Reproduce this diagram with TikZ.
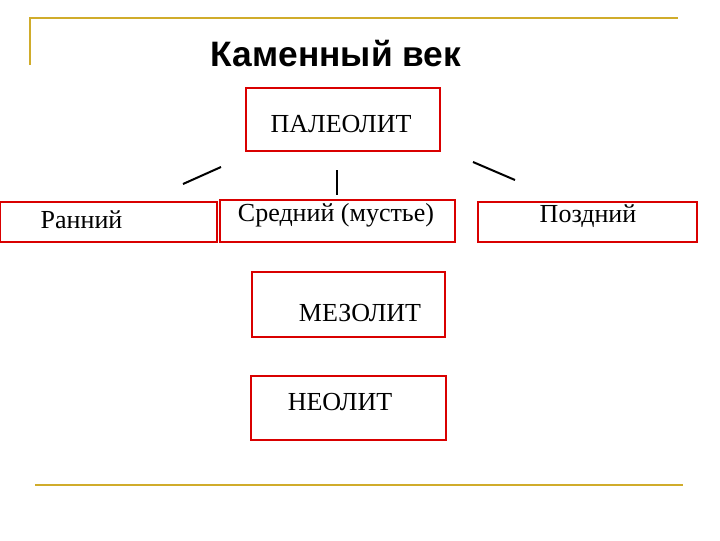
\documentclass[tikz,border=0pt]{standalone}
\usepackage{fontspec}
\setmainfont{Liberation Serif}
\newfontfamily\titlefont{Liberation Sans}
\begin{document}
\begin{tikzpicture}[x=0.75pt,y=-0.75pt,
  box/.style={draw=red!85!black,line width=2.2pt},
  lbl/.style={font=\fontsize{19.5}{22}\selectfont},
  gold/.style={draw=yellow!60!orange!80!black,line width=1.2pt}]
\useasboundingbox (0,0) rectangle (720,540);
\draw[gold] (30,65) -- (30,18) -- (678,18);
\draw[gold] (35,485) -- (683,485);
\node[font=\titlefont\bfseries\fontsize{26.5}{30}\selectfont] (title) at (336,54) {Каменный век};
\draw[box] (246,88) rectangle (440,151);
\node[lbl] (pal) at (341,124) {ПАЛЕОЛИТ};
\draw[box] (0,202) rectangle (217,242);
\node[lbl,anchor=west] (ran) at (36,220) {Ранний};
\draw[box] (220,200) rectangle (455,242);
\node[lbl] (sred) at (336,215) {Средний (мустье)};
\draw[box] (478,202) rectangle (697,242);
\node[lbl] (pozd) at (588,216) {Поздний};
\draw[box] (252,272) rectangle (445,337);
\node[lbl] (mez) at (360,313) {МЕЗОЛИТ};
\draw[box] (251,376) rectangle (446,440);
\node[lbl] (neo) at (340,402) {НЕОЛИТ};
\coordinate (a1) at (183,184); \coordinate (a2) at (221,167);
\coordinate (b1) at (337,170); \coordinate (b2) at (337,195);
\coordinate (c1) at (473,162); \coordinate (c2) at (515,180);
\draw[line width=1.5pt] (a1) -- (a2);
\draw[line width=1.5pt] (b1) -- (b2);
\draw[line width=1.5pt] (c1) -- (c2);
\end{tikzpicture}
\end{document}
